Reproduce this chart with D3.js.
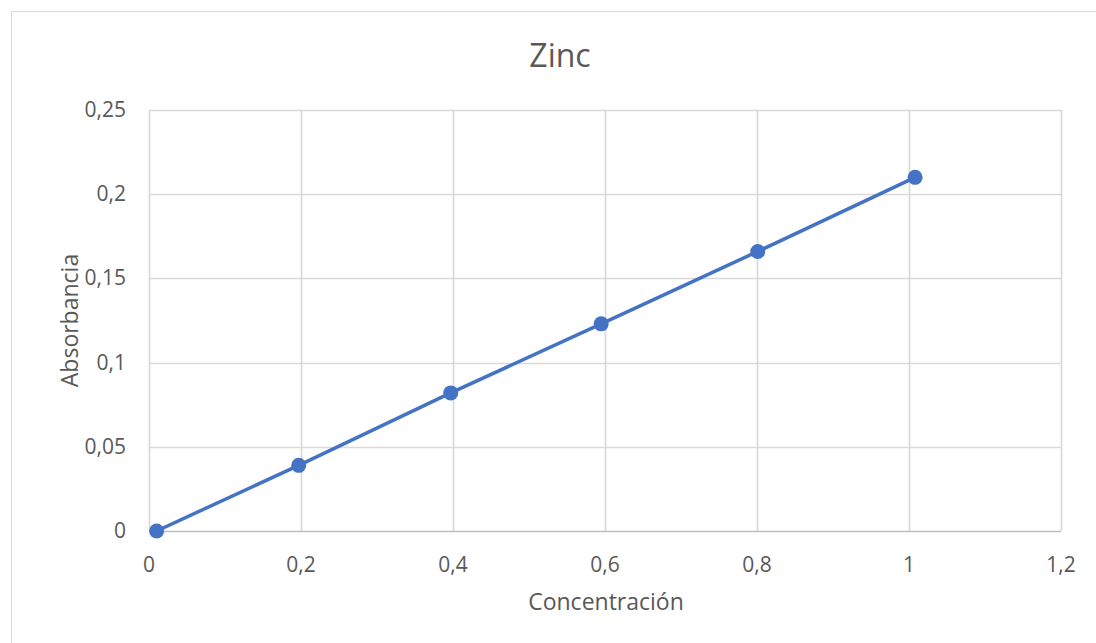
<!DOCTYPE html>
<html>
<head>
<meta charset="utf-8">
<script src="https://cdn.jsdelivr.net/npm/d3@7"></script>
<style>
  body { margin: 0; background: #fff; }
</style>
</head>
<body>
<div id="chart"></div>
<script>
// concentration vs absorbance
const concentracion = [0.01, 0.197, 0.397, 0.595, 0.801, 1.008];
const absorbancia = [0, 0.039, 0.082, 0.123, 0.166, 0.21];
const xTicks = [0, 0.2, 0.4, 0.6, 0.8, 1, 1.2];
const yTicks = [0, 0.05, 0.1, 0.15, 0.2, 0.25];

function main(container) {
  const sel = d3.select(container);
  const width = 1096;
  const height = 643;
  const margin = { top: 110, right: 34, bottom: 112, left: 149 };
  const font = "'Open Sans', 'Noto Sans', sans-serif";
  const fmt = (v) => String(v).replace(".", ",");

  const svg = sel.append("svg")
    .attr("width", width)
    .attr("height", height);

  // chart frame
  svg.append("rect")
    .attr("x", 11.5).attr("y", 11.5)
    .attr("width", width).attr("height", height)
    .attr("fill", "#fff")
    .attr("stroke", "#d9d9d9");

  const x = d3.scaleLinear().domain([0, 1.2]).range([margin.left, width - margin.right - 1]);
  const y = d3.scaleLinear().domain([0, 0.25]).range([height - margin.bottom, margin.top]);

  // gridlines
  svg.append("g")
    .selectAll("line")
    .data(xTicks)
    .join("line")
    .attr("x1", (d) => Math.round(x(d)) + 0.5)
    .attr("x2", (d) => Math.round(x(d)) + 0.5)
    .attr("y1", y(0.25))
    .attr("y2", y(0))
    .attr("stroke", "#d9d9d9")
    .attr("stroke-width", 1.7);

  svg.append("g")
    .selectAll("line")
    .data(yTicks)
    .join("line")
    .attr("x1", x(0))
    .attr("x2", x(1.2))
    .attr("y1", (d) => Math.round(y(d)) + 0.5)
    .attr("y2", (d) => Math.round(y(d)) + 0.5)
    .attr("stroke", (d) => (d === 0 ? "#bfbfbf" : "#d9d9d9"))
    .attr("stroke-width", 1.7);

  // tick labels
  svg.append("g")
    .selectAll("text")
    .data(xTicks)
    .join("text")
    .attr("x", (d) => x(d))
    .attr("y", y(0) + 41)
    .attr("text-anchor", "middle")
    .attr("font-family", font)
    .attr("font-size", "21px")
    .attr("fill", "#595959")
    .text(fmt);

  svg.append("g")
    .selectAll("text")
    .data(yTicks)
    .join("text")
    .attr("x", x(0) - 23)
    .attr("y", (d) => y(d) + 7)
    .attr("text-anchor", "end")
    .attr("font-family", font)
    .attr("font-size", "21px")
    .attr("fill", "#595959")
    .text(fmt);

  // title and axis titles
  svg.append("text")
    .attr("x", 560)
    .attr("y", 67)
    .attr("text-anchor", "middle")
    .attr("font-family", font)
    .attr("font-size", "32px")
    .attr("fill", "#595959")
    .text("Zinc");

  svg.append("text")
    .attr("x", 606)
    .attr("y", 610)
    .attr("text-anchor", "middle")
    .attr("font-family", font)
    .attr("font-size", "23px")
    .attr("fill", "#595959")
    .text("Concentración");

  svg.append("text")
    .attr("transform", `translate(78, ${(y(0) + y(0.25)) / 2}) rotate(-90)`)
    .attr("text-anchor", "middle")
    .attr("font-family", font)
    .attr("font-size", "23px")
    .attr("fill", "#595959")
    .text("Absorbancia");

  // series
  const pts = concentracion.map((c, i) => [c, absorbancia[i]]);
  const line = d3.line().x((d) => x(d[0])).y((d) => y(d[1]));

  svg.append("path")
    .datum(pts)
    .attr("d", line)
    .attr("fill", "none")
    .attr("stroke", "#4472c4")
    .attr("stroke-width", 3.5);

  svg.append("g")
    .selectAll("circle")
    .data(pts)
    .join("circle")
    .attr("cx", (d) => x(d[0]))
    .attr("cy", (d) => y(d[1]))
    .attr("r", 7.5)
    .attr("fill", "#4472c4");
}

main(document.getElementById("chart"));
</script>
</body>
</html>
